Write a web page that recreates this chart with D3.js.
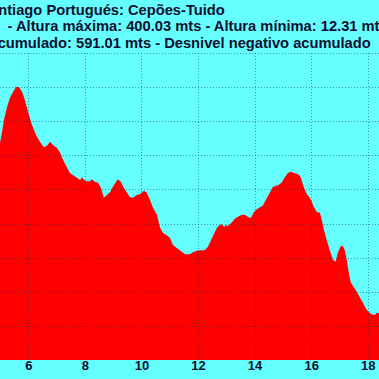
<!DOCTYPE html>
<html>
<head>
<meta charset="utf-8">
<script src="https://cdn.jsdelivr.net/npm/d3@7/dist/d3.min.js"></script>
<style>
  html, body { margin: 0; padding: 0; background: #66ffff; overflow: hidden; }
  svg { display: block; }
  .title { font-family: "Liberation Sans", Arial, sans-serif; font-weight: bold; font-size: 14.7px; fill: #101030; }
  .tick text { font-family: "Liberation Sans", Arial, sans-serif; font-weight: bold; font-size: 13px; fill: #101030; }
</style>
</head>
<body>
<script>
// Distance along the route (km) and altitude (m).
var km = [5.00,5.07,5.14,5.25,5.35,5.46,5.57,5.67,5.78,5.88,5.99,6.10,6.20,6.31,6.41,6.55,6.66,6.77,6.87,7.01,
  7.12,7.23,7.37,7.47,7.58,7.72,7.83,7.90,7.97,8.07,8.18,8.25,8.36,8.46,8.57,8.67,8.78,8.89,8.99,9.10,
  9.17,9.28,9.38,9.49,9.59,9.70,9.84,9.95,10.09,10.19,10.30,10.41,10.55,10.65,10.76,10.90,11.01,11.11,11.25,11.36,
  11.54,11.71,11.82,11.96,12.07,12.24,12.35,12.42,12.53,12.67,12.77,12.84,12.92,12.99,13.06,13.20,13.30,13.41,13.55,13.66,
  13.76,13.87,13.98,14.08,14.19,14.29,14.40,14.54,14.65,14.75,14.86,14.96,15.07,15.18,15.28,15.39,15.49,15.57,15.64,15.71,
  15.81,15.88,15.99,16.10,16.20,16.31,16.38,16.45,16.55,16.66,16.77,16.87,16.94,17.05,17.12,17.19,17.26,17.33,17.40,17.51,
  17.61,17.72,17.83,17.93,18.04,18.14,18.25,18.32,18.39,18.45];
var altitude = [318,334,352,371,384,393,400,400,393,381,364,348,337,327,320,312,314,320,315,311,
  304,293,282,274,271,267,264,268,264,262,262,265,261,260,252,238,242,246,254,261,
  265,261,252,245,239,238,242,243,248,245,235,223,213,195,186,183,179,169,164,161,
  155,155,158,160,161,161,166,172,182,194,198,199,195,198,196,202,207,210,213,213,
  210,208,217,221,224,226,235,245,254,255,257,260,268,274,276,274,273,271,267,257,
  246,242,235,224,217,216,205,191,176,161,147,144,157,167,167,161,147,128,114,107,
  100,92,84,76,70,67,66,69,69,69];

var kmTicks = [6, 8, 10, 12, 14, 16, 18];
var altTicks = [0, 50, 100, 150, 200, 250, 300, 350, 400, 450];

var titleLines = [
  { text: "Camino de Santiago Portugués: Cepões-Tuido", anchor: "Cepões", at: 128, y: 15 },
  { text: "- Altura máxima: 400.03 mts - Altura mínima: 12.31 mts", anchor: "Altura máxima", at: 16, y: 31 },
  { text: "Desnivel positivo acumulado: 591.01 mts - Desnivel negativo acumulado", anchor: "591.01", at: 76, y: 47.5 }
];

var width = 379, height = 379;

var svg = d3.select("body").append("svg")
  .attr("width", width)
  .attr("height", height);

svg.append("rect").attr("width", width).attr("height", height).attr("fill", "#66ffff");

// Scales: 2 km is about 56.6 px, 50 m about 34.1 px.
var x = d3.scaleLinear().domain([6, 18]).range([28.3, 367.7]);
var y = d3.scaleLinear().domain([0, 450]).range([360, 53]);

// Elevation area.
var points = km.map(function (d, i) { return [d, altitude[i]]; });
var area = d3.area()
  .x(function (d) { return x(d[0]); })
  .y0(y(0))
  .y1(function (d) { return y(d[1]); });

svg.append("path")
  .datum(points)
  .attr("d", area)
  .attr("fill", "#ff0000");

// Dotted grid drawn over the area.
var grid = svg.append("g")
  .attr("stroke", "#003366")
  .attr("stroke-opacity", 0.5)
  .attr("stroke-width", 1)
  .attr("stroke-dasharray", "1,2");

grid.selectAll("line.v").data(kmTicks).enter().append("line")
  .attr("class", "v")
  .attr("x1", function (d) { return Math.round(x(d)) + 0.5; })
  .attr("x2", function (d) { return Math.round(x(d)) + 0.5; })
  .attr("y1", y(450))
  .attr("y2", y(0));

grid.selectAll("line.h").data(altTicks.slice(1)).enter().append("line")
  .attr("class", "h")
  .attr("x1", 0)
  .attr("x2", width)
  .attr("y1", function (d) { return Math.round(y(d)) + 0.5; })
  .attr("y2", function (d) { return Math.round(y(d)) + 0.5; });

// X axis labels.
var xAxis = d3.axisBottom(x).tickValues(kmTicks).tickSize(0).tickPadding(0);
svg.append("g")
  .attr("transform", "translate(0," + y(0) + ")")
  .call(xAxis)
  .call(function (g) { g.select(".domain").remove(); })
  .selectAll("text")
  .attr("dy", null)
  .attr("y", 10);

// Title lines, placed so the visible part lines up.
titleLines.forEach(function (line) {
  var t = svg.append("text")
    .attr("class", "title")
    .attr("x", 0)
    .attr("y", line.y)
    .text(line.text);
  var idx = line.text.indexOf(line.anchor);
  var pre = idx > 0 ? t.node().getSubStringLength(0, idx) : 0;
  t.attr("x", line.at - pre);
});
</script>
</body>
</html>
